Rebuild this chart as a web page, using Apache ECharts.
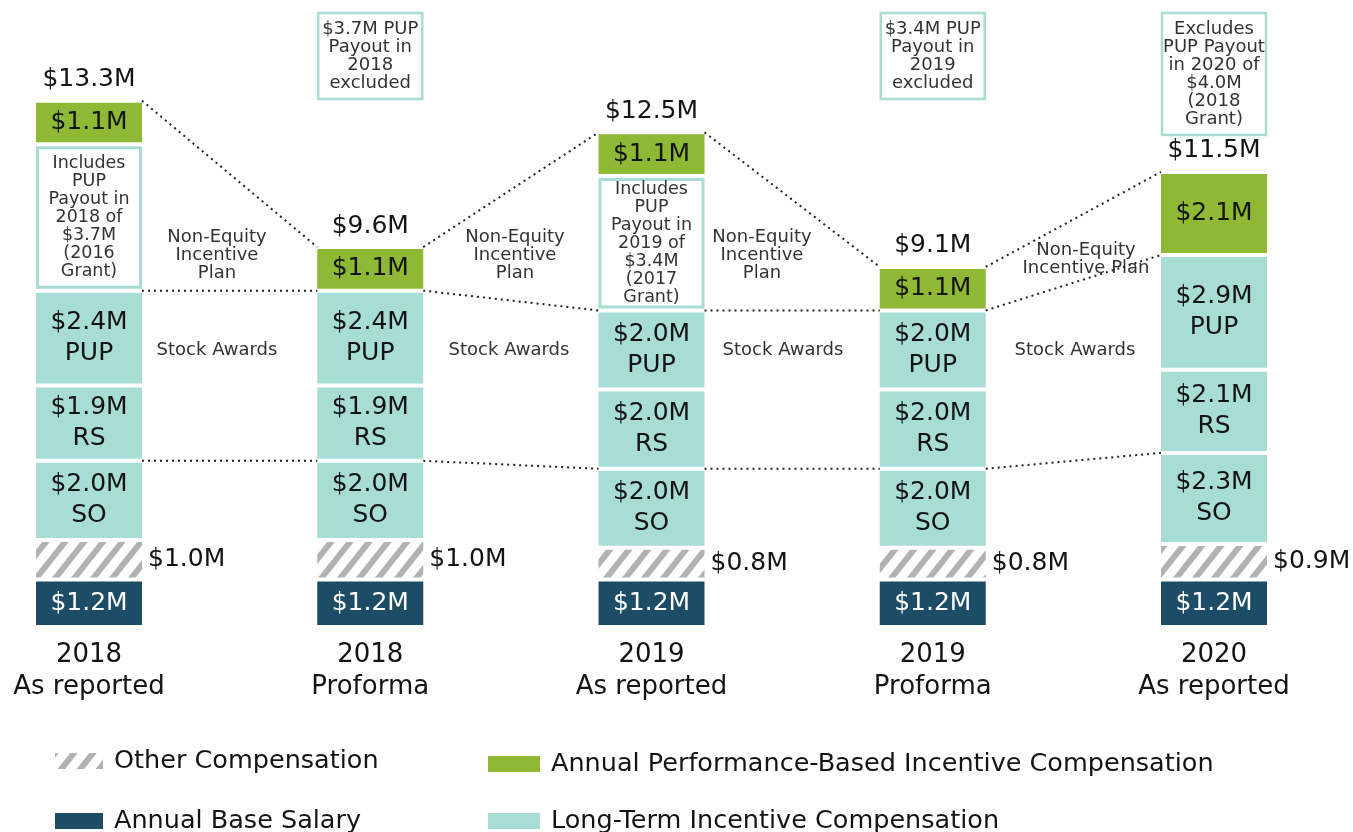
<!DOCTYPE html>
<html>
<head>
<meta charset="utf-8">
<script src="https://cdn.jsdelivr.net/npm/echarts@6/dist/echarts.min.js"></script>
<style>
  html, body { margin: 0; padding: 0; background: #ffffff; }
  #chart { width: 1353px; height: 832px; }
</style>
</head>
<body>
<div id="chart"></div>
<script>
// Categories (x axis)
const categories = ['2018\nAs reported', '2018\nProforma', '2019\nAs reported', '2019\nProforma', '2020\nAs reported'];

// Compensation components, $M, stacked bottom to top
const baseSalary      = [1.2, 1.2, 1.2, 1.2, 1.2];
const otherComp       = [1.0, 1.0, 0.8, 0.8, 0.9];
const stockOptions    = [2.0, 2.0, 2.0, 2.0, 2.3];
const restrictedStock = [1.9, 1.9, 2.0, 2.0, 2.1];
const pupAwards       = [2.4, 2.4, 2.0, 2.0, 2.9];
const pupPayoutIncl   = [3.7, 0, 3.4, 0, 0];     // PUP payout counted in the reported total
const nonEquityPlan   = [1.1, 1.1, 1.1, 1.1, 2.1];

// PUP payouts left out of a column, and the years they relate to
const pupPayoutExcl = [0, 3.7, 0, 3.4, 4.0];
const payoutYear    = ['2018', '2018', '2019', '2019', '2020'];
const grantYear     = ['2016', '2016', '2017', '2017', '2018'];

const layers = [baseSalary, otherComp, stockOptions, restrictedStock, pupAwards, pupPayoutIncl, nonEquityPlan];

const FONT = '"DejaVu Sans", Verdana, sans-serif';
const C_SALARY = '#1d4d66';
const C_LTI = '#a8ddd6';
const C_GREEN = '#8fb935';
const C_TEXT = '#141414';
const C_SMALL = '#333333';
const BAR_W = 106;
const HALF = BAR_W / 2;

// diagonal hatch for "Other Compensation"
function makeHatch() {
  const w = 19, h = 24;
  const c = document.createElement('canvas');
  c.width = w; c.height = h;
  const ctx = c.getContext('2d');
  ctx.fillStyle = '#ffffff';
  ctx.fillRect(0, 0, w, h);
  ctx.strokeStyle = '#b2b2b2';
  ctx.lineWidth = 6;
  for (let k = -2; k <= 2; k++) {
    ctx.beginPath();
    ctx.moveTo(k * w - w, 2 * h);
    ctx.lineTo(k * w + 2 * w, -h);
    ctx.stroke();
  }
  return { image: c, repeat: 'repeat' };
}
const HATCH = makeHatch();

const fmt = v => '$' + v.toFixed(1) + 'M';
const sumTo = (n, i) => { let s = 0; for (let k = 0; k < n; k++) s += layers[k][i]; return s; };
const total = i => sumTo(layers.length, i);

function segment(name, layerIdx, opts) {
  return {
    type: 'custom',
    name: name,
    coordinateSystem: 'cartesian2d',
    itemStyle: { color: opts.fill },
    data: layers[layerIdx].map((v, i) => [i, v]),
    encode: { x: 0, y: 1 },
    z: 2,
    renderItem: function (params, api) {
      const i = api.value(0);
      const v = api.value(1);
      if (!v) return null;
      const b = sumTo(layerIdx, i);
      const p0 = api.coord([i, b]);
      const p1 = api.coord([i, b + v]);
      const cx = p0[0], yb = p0[1], yt = p1[1];
      const kids = [];
      if (opts.box) {
        kids.push({
          type: 'rect',
          shape: { x: cx - HALF + 1.5, y: yt + 3.5, width: BAR_W - 3, height: yb - yt - 7 },
          style: { fill: '#ffffff', stroke: C_LTI, lineWidth: 3 }
        });
      } else {
        kids.push({
          type: 'rect',
          shape: { x: cx - HALF, y: yt + 2, width: BAR_W, height: yb - yt - 4 },
          style: { fill: opts.fill }
        });
      }
      const label = opts.label(v, i);
      if (label) {
        const outside = !!opts.outside;
        kids.push({
          type: 'text',
          x: outside ? cx + HALF + 6 : cx,
          y: (yt + yb) / 2,
          style: {
            text: label,
            fill: opts.color || C_TEXT,
            font: (opts.fontSize || 25) + 'px ' + FONT,
            align: outside ? 'left' : 'center',
            verticalAlign: 'middle',
            lineHeight: opts.lineHeight || 31
          }
        });
      }
      if (opts.totalLabel) {
        kids.push({
          type: 'text',
          x: cx,
          y: yt - 21,
          style: {
            text: fmt(total(i)),
            fill: C_TEXT,
            font: '25px ' + FONT,
            align: 'center',
            verticalAlign: 'middle'
          }
        });
      }
      return { type: 'group', children: kids };
    }
  };
}

// dotted connectors between neighbouring columns
const connectors = {
  type: 'custom',
  name: 'connectors',
  coordinateSystem: 'cartesian2d',
  data: categories.slice(0, -1).map((c, i) => [i, 0]),
  encode: { x: 0, y: 1 },
  silent: true,
  z: 1,
  renderItem: function (params, api) {
    const i = api.value(0);
    const levels = [n => total(n), n => sumTo(5, n), n => sumTo(3, n)];
    return {
      type: 'group',
      children: levels.map(f => {
        const a = api.coord([i, f(i)]);
        const b = api.coord([i + 1, f(i + 1)]);
        return {
          type: 'line',
          shape: { x1: a[0] + HALF, y1: a[1], x2: b[0] - HALF, y2: b[1] },
          style: { stroke: '#222222', lineWidth: 2, lineDash: [2, 4] }
        };
      })
    };
  }
};

// boxed notes above columns that leave a PUP payout out
const notes = {
  type: 'custom',
  name: 'notes',
  coordinateSystem: 'cartesian2d',
  data: pupPayoutExcl.map((v, i) => [i, v]),
  encode: { x: 0, y: 1 },
  silent: true,
  renderItem: function (params, api) {
    const i = api.value(0);
    const v = api.value(1);
    if (!v) return null;
    const cx = api.coord([i, 0])[0];
    const reported = categories[i].indexOf('As reported') >= 0;
    const text = reported
      ? 'Excludes\nPUP Payout\nin ' + payoutYear[i] + ' of\n' + fmt(v) + '\n(' + grantYear[i] + '\nGrant)'
      : fmt(v) + ' PUP\nPayout in\n' + payoutYear[i] + '\nexcluded';
    const lines = text.split('\n').length;
    const top = 13, lh = 18;
    const h = lines * lh + 14;
    return {
      type: 'group',
      children: [
        { type: 'rect', shape: { x: cx - HALF + 1, y: top, width: BAR_W - 2, height: h },
          style: { fill: '#ffffff', stroke: C_LTI, lineWidth: 2.5 } },
        { type: 'text', x: cx, y: top + h / 2,
          style: { text: text, fill: C_SMALL, font: '18px ' + FONT, align: 'center',
                   verticalAlign: 'middle', lineHeight: lh } }
      ]
    };
  }
};

const bandText = (x, y, text) => ({
  type: 'text', x: x, y: y, silent: true,
  style: { text: text, fill: C_SMALL, font: '18px ' + FONT, align: 'center', verticalAlign: 'middle', lineHeight: 18 }
});

const legendText = { fontSize: 25.5, fontFamily: FONT, color: C_TEXT, padding: [0, 0, 0, 6] };

const option = {
  animation: false,
  backgroundColor: '#ffffff',
  grid: { left: 89, right: 139, top: 73, bottom: 205, containLabel: false },
  xAxis: {
    type: 'category',
    data: categories,
    boundaryGap: false,
    axisLine: { show: false },
    axisTick: { show: false },
    splitLine: { show: false },
    axisLabel: { fontSize: 26, fontFamily: FONT, color: C_TEXT, lineHeight: 32, margin: 12 }
  },
  yAxis: { type: 'value', min: 0, max: 14, show: false, splitLine: { show: false } },
  legend: [
    { left: 55, top: 748, width: 420, height: 120, padding: 0, orient: 'vertical', itemGap: 34,
      itemWidth: 48, itemHeight: 16, icon: 'rect', selectedMode: false,
      data: ['Other Compensation', 'Annual Base Salary'], textStyle: legendText },
    { left: 488, top: 751, width: 860, height: 120, padding: 0, orient: 'vertical', itemGap: 31,
      itemWidth: 52, itemHeight: 16, icon: 'rect', selectedMode: false,
      data: ['Annual Performance-Based Incentive Compensation', 'Long-Term Incentive Compensation'],
      textStyle: legendText }
  ],
  graphic: [
    bandText(217, 255, 'Non-Equity\nIncentive\nPlan'),
    bandText(515, 255, 'Non-Equity\nIncentive\nPlan'),
    bandText(762, 255, 'Non-Equity\nIncentive\nPlan'),
    bandText(1086, 259, 'Non-Equity\nIncentive Plan'),
    bandText(217, 350, 'Stock Awards'),
    bandText(509, 350, 'Stock Awards'),
    bandText(783, 350, 'Stock Awards'),
    bandText(1075, 350, 'Stock Awards')
  ],
  series: [
    connectors,
    segment('Annual Base Salary', 0, { fill: C_SALARY, color: '#ffffff', label: v => fmt(v) }),
    segment('Other Compensation', 1, { fill: HATCH, outside: true, label: v => fmt(v) }),
    segment('Long-Term Incentive Compensation', 2, { fill: C_LTI, label: v => fmt(v) + '\nSO' }),
    segment('Long-Term Incentive Compensation', 3, { fill: C_LTI, label: v => fmt(v) + '\nRS' }),
    segment('Long-Term Incentive Compensation', 4, { fill: C_LTI, label: v => fmt(v) + '\nPUP' }),
    segment('PUP Payout', 5, { fill: '#ffffff', box: true, fontSize: 17.5, lineHeight: 18, color: C_SMALL,
      label: (v, i) => 'Includes\nPUP\nPayout in\n' + payoutYear[i] + ' of\n' + fmt(v) + '\n(' + grantYear[i] + '\nGrant)' }),
    segment('Annual Performance-Based Incentive Compensation', 6, { fill: C_GREEN, totalLabel: true, label: v => fmt(v) }),
    notes
  ]
};

const chart = echarts.init(document.getElementById('chart'), null, { renderer: 'canvas' });
chart.setOption(option);
</script>
</body>
</html>
